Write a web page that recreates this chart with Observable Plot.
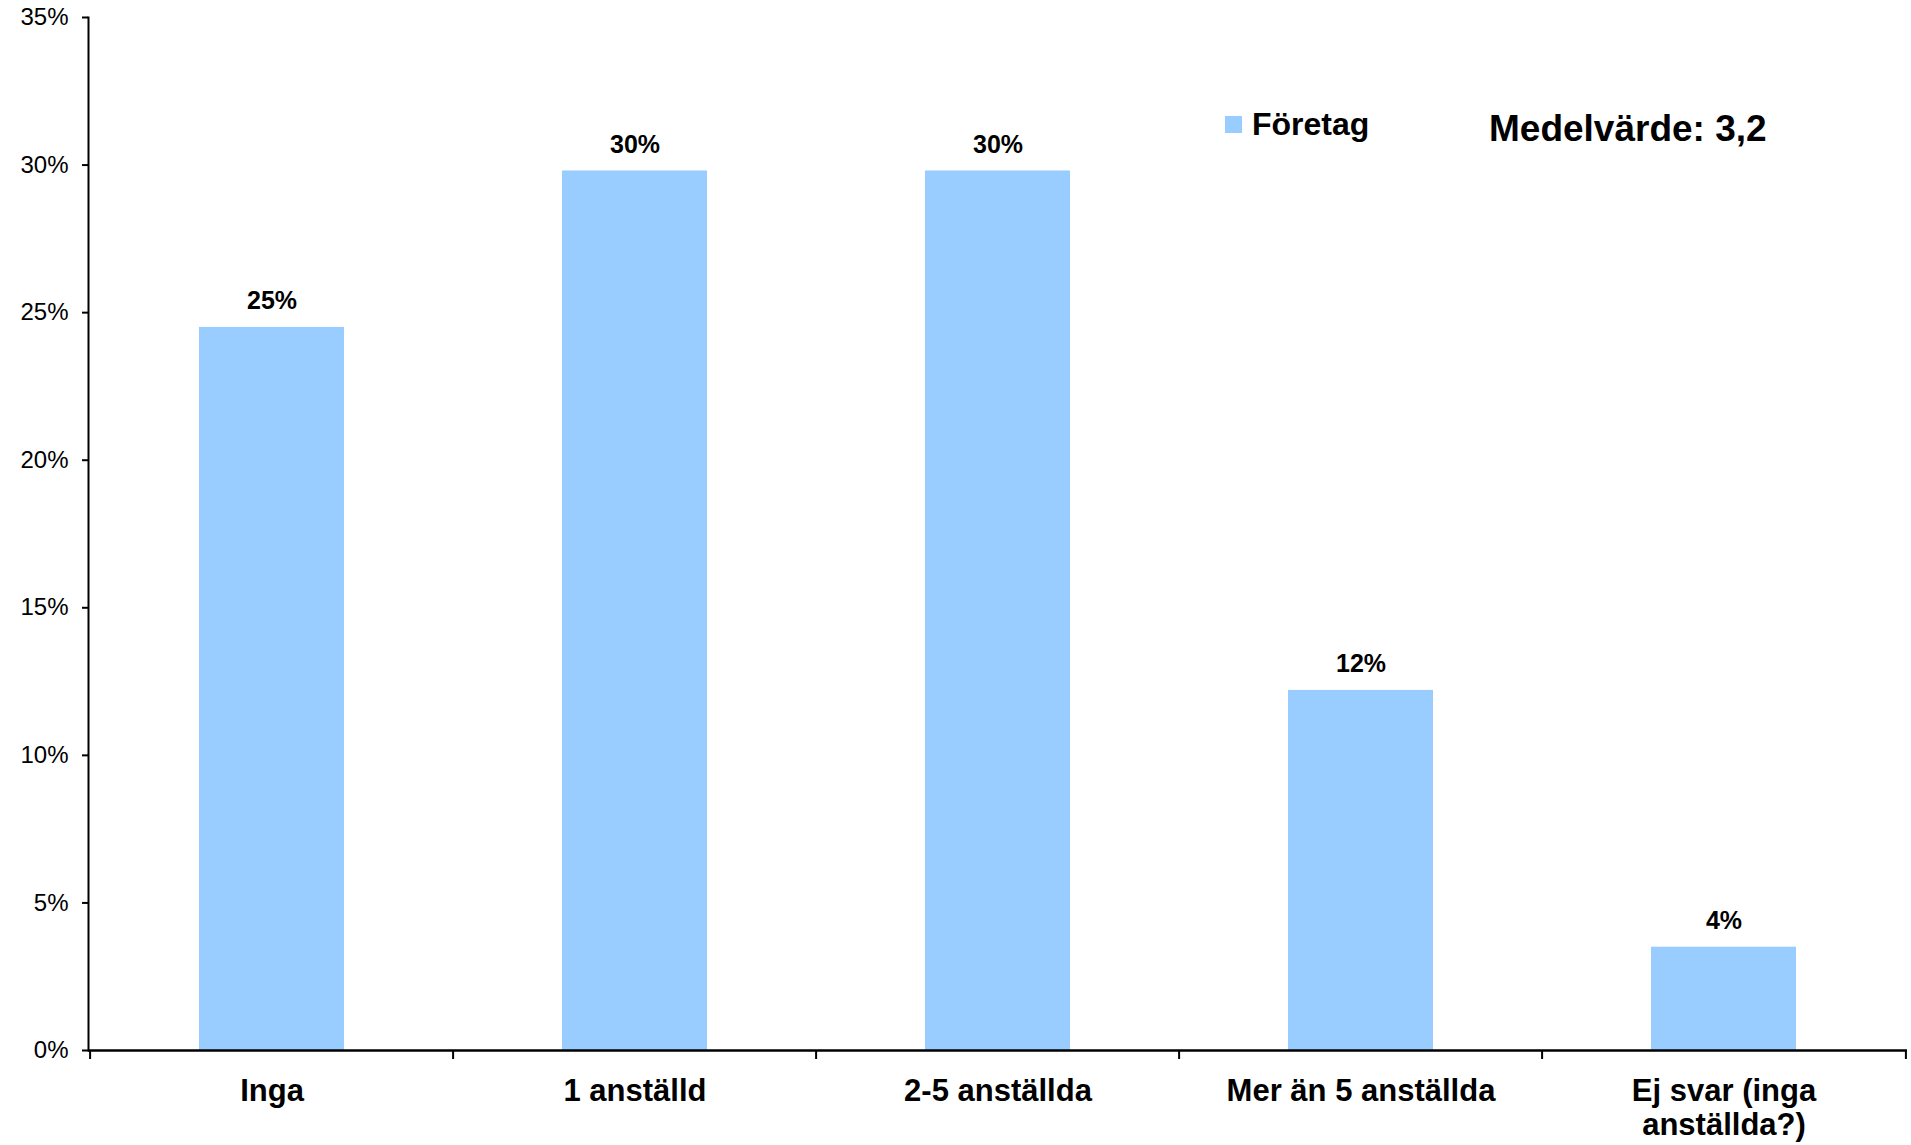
<!DOCTYPE html>
<html>
<head>
<meta charset="utf-8">
<script src="https://cdn.jsdelivr.net/npm/d3@7"></script>
<script src="https://cdn.jsdelivr.net/npm/@observablehq/plot@0.6"></script>
<style>
  html, body { margin: 0; padding: 0; background: #fff; }
  body { width: 1911px; height: 1145px; overflow: hidden; font-family: "Liberation Sans", Arial, sans-serif; }
  #wrap { position: relative; width: 1911px; height: 1145px; }
  #legend { position: absolute; left: 1225px; top: 106px; display: flex; align-items: center; font-weight: bold; font-size: 32px; color: #000; }
  #legend .sw { width: 17px; height: 17px; background: #99CCFF; margin-right: 10px; }
  #mean { position: absolute; left: 1489px; top: 108px; font-weight: bold; font-size: 37px; color: #000; }
</style>
</head>
<body>
<div id="wrap">
  <div id="chart"></div>
  <div id="legend"><div class="sw"></div><span>Företag</span></div>
  <div id="mean">Medelvärde: 3,2</div>
</div>
<script>
const categories = ["Inga", "1 anställd", "2-5 anställda", "Mer än 5 anställda", "Ej svar (inga\nanställda?)"];
const values = [24.5, 29.8, 29.8, 12.2, 3.5];
const valueLabels = ["25%", "30%", "30%", "12%", "4%"];
const yTicks = [0, 5, 10, 15, 20, 25, 30, 35];

const data = categories.map((c, i) => ({category: c, value: values[i], label: valueLabels[i]}));

const W = 1911, H = 1145, ML = 88, MR = 4, MT = 17, MB = 95;
const step = (W - ML - MR) / categories.length;
const font = "Liberation Sans, Arial, sans-serif";

const chart = Plot.plot({
  width: W,
  height: H,
  marginLeft: ML,
  marginRight: MR,
  marginTop: MT,
  marginBottom: MB,
  style: {fontFamily: font, background: "white", color: "black"},
  x: {domain: categories, paddingInner: 0.6, paddingOuter: 0.3, axis: null},
  y: {domain: [0, 35], axis: null},
  marks: [
    Plot.barY(data, {x: "category", y: "value", fill: "#99CCFF"}),
    Plot.text(data, {x: "category", y: "value", text: "label", dy: -18, lineAnchor: "bottom", fontSize: 25, fontWeight: "bold", fill: "black"}),
    Plot.axisY({ticks: yTicks, tickFormat: d => d + "%", tickSize: 6, tickPadding: 14, fontSize: 24, stroke: "black", strokeWidth: 2, fill: "black", label: null}),
    Plot.axisX({tickSize: 9, tickFormat: () => "", dx: -step / 2, stroke: "black", strokeWidth: 2, label: null}),
    Plot.axisX({ticks: [categories[categories.length - 1]], tickSize: 9, tickFormat: () => "", dx: step / 2, stroke: "black", strokeWidth: 2, label: null}),
    Plot.axisX({tickSize: 0, tickPadding: 26, fontSize: 31, fontWeight: "bold", lineHeight: 1.1, fill: "black", label: null}),
    Plot.frame({anchor: "left", stroke: "black", strokeWidth: 2}),
    Plot.ruleY([0], {stroke: "black", strokeWidth: 2.5})
  ]
});
document.getElementById("chart").appendChild(chart);
</script>
</body>
</html>
